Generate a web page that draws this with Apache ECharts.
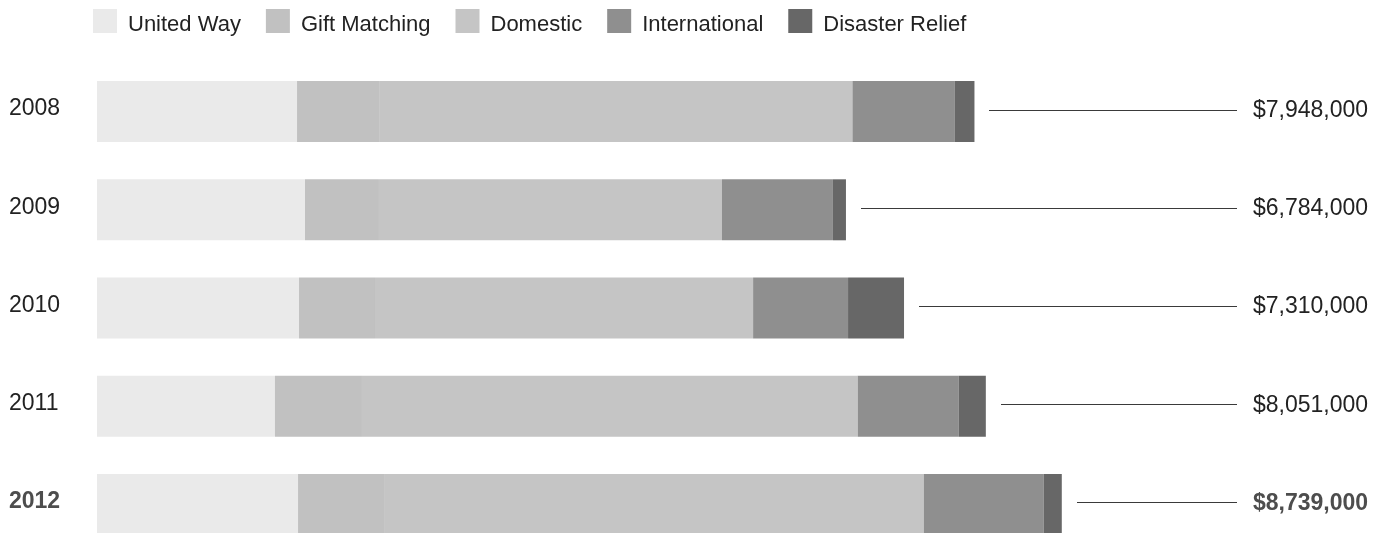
<!DOCTYPE html>
<html>
<head>
<meta charset="utf-8">
<script src="https://cdn.jsdelivr.net/npm/echarts@6/dist/echarts.min.js"></script>
<style>
  html, body { margin: 0; padding: 0; background: #ffffff; overflow: hidden; }
  #chart { width: 1388px; height: 560px; }
</style>
</head>
<body>
<div id="chart"></div>
<script>
// Charitable giving by program, in thousands of dollars
const years = ['2008', '2009', '2010', '2011', '2012'];
const unitedWay      = [1812, 1884, 1830, 1612, 1821];
const giftMatching   = [743, 670, 688, 788, 779];
const domestic       = [4288, 3107, 3425, 4491, 4889];
const international  = [924, 1005, 860, 915, 1087];
const disasterRelief = [181, 118, 507, 245, 163];
const totals         = [7948, 6784, 7310, 8051, 8739];

const seriesNames  = ['United Way', 'Gift Matching', 'Domestic', 'International', 'Disaster Relief'];
const seriesColors = ['#eaeaea', '#c1c1c1', '#c5c5c5', '#8f8f8f', '#676767'];
const seriesValues = [unitedWay, giftMatching, domestic, international, disasterRelief];

const FONT = '"Liberation Sans", Arial, Helvetica, sans-serif';
const highlightYear = '2012';

function money(thousands) {
  return '$' + (thousands * 1000).toLocaleString('en-US');
}

const chart = echarts.init(document.getElementById('chart'), null, { renderer: 'canvas' });

const barSeries = seriesNames.map((name, i) => ({
  name: name,
  type: 'bar',
  stack: 'giving',
  barWidth: 61,
  silent: true,
  itemStyle: { color: seriesColors[i] },
  emphasis: { disabled: true },
  data: seriesValues[i]
}));

// Leader line and total label to the right of each bar
const totalSeries = {
  type: 'custom',
  silent: true,
  clip: false,
  z: 5,
  data: totals.map((t, i) => [t, i]),
  encode: { x: 0, y: 1 },
  renderItem: function (params, api) {
    const p = api.coord([api.value(0), api.value(1)]);
    const cs = params.coordSys;
    const y = Math.round(p[1]) - 1.5;
    const lineEnd = cs.x + cs.width + 36;
    const idx = params.dataIndex;
    const bold = years[idx] === highlightYear;
    return {
      type: 'group',
      children: [
        {
          type: 'line',
          shape: { x1: Math.round(p[0]) + 15, y1: y, x2: lineEnd, y2: y },
          style: { stroke: '#3a3a3a', lineWidth: 1 }
        },
        {
          type: 'text',
          style: {
            text: money(totals[idx]),
            x: lineEnd + 16,
            y: p[1] - 1,
            align: 'left',
            verticalAlign: 'middle',
            fill: bold ? '#4d4d4d' : '#222222',
            font: (bold ? 'bold ' : '') + '23px ' + FONT
          }
        }
      ]
    };
  }
};

chart.setOption({
  animation: false,
  backgroundColor: '#ffffff',
  textStyle: { fontFamily: FONT },
  legend: {
    left: 93,
    top: 9,
    padding: 0,
    itemWidth: 24,
    itemHeight: 24,
    itemGap: 25,
    icon: 'rect',
    selectedMode: false,
    data: seriesNames,
    formatter: function (name) {
      return '{t|' + name + '}';
    },
    textStyle: {
      fontFamily: FONT,
      fontSize: 22,
      color: '#222222',
      rich: {
        t: {
          fontFamily: FONT,
          fontSize: 22,
          color: '#222222',
          padding: [8, 0, 0, 6]
        }
      }
    }
  },
  grid: {
    left: 97,
    top: 62.5,
    width: 1104,
    height: 491,
    containLabel: false
  },
  xAxis: {
    type: 'value',
    min: 0,
    max: 10000,
    show: false
  },
  yAxis: {
    type: 'category',
    inverse: true,
    data: years,
    axisLine: { show: false },
    axisTick: { show: false },
    splitLine: { show: false },
    axisLabel: {
      align: 'left',
      margin: 88,
      fontFamily: FONT,
      fontSize: 23,
      color: '#222222',
      padding: [0, 0, 5, 0],
      formatter: function (v) {
        return v === highlightYear ? '{b|' + v + '}' : v;
      },
      rich: {
        b: { fontFamily: FONT, fontSize: 23, fontWeight: 'bold', color: '#4d4d4d' }
      }
    }
  },
  series: barSeries.concat([totalSeries])
});
</script>
</body>
</html>
